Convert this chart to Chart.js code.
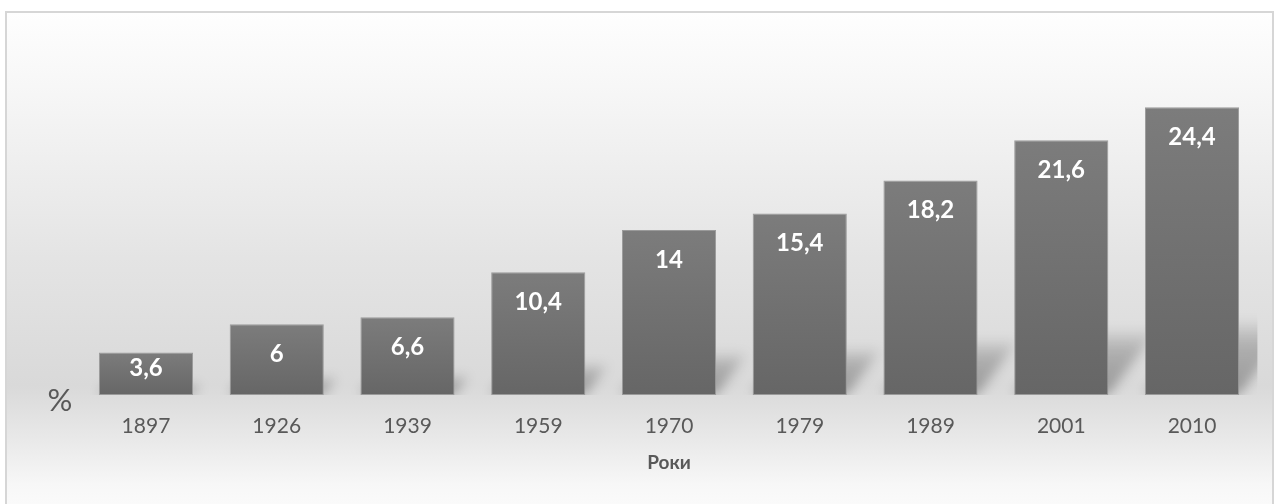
<!DOCTYPE html>
<html>
<head>
<meta charset="utf-8">
<script src="https://cdn.jsdelivr.net/npm/chart.js@4/dist/chart.umd.min.js"></script>
<style>
  html, body { margin: 0; padding: 0; background: #ffffff; }
  #wrap { position: relative; width: 1277px; height: 504px; }
  canvas { display: block; }
</style>
</head>
<body>
<div id="wrap"><canvas id="c" width="1277" height="504"></canvas></div>
<script>
// ---- data ----
const years = ['1897', '1926', '1939', '1959', '1970', '1979', '1989', '2001', '2010'];
const shares = [3.6, 6, 6.6, 10.4, 14, 15.4, 18.2, 21.6, 24.4];
const yUnit = '%';
const xTitle = 'Роки';

// ---- background frame with vertical gradient ----
const framePlugin = {
  id: 'frame',
  beforeDraw(chart) {
    const ctx = chart.ctx;
    const W = chart.width, H = chart.height;
    ctx.save();
    ctx.fillStyle = '#ffffff';
    ctx.fillRect(0, 0, W, H);
    const top = 12, left = 6, right = 1273;
    const g = ctx.createLinearGradient(0, top, 0, H);
    g.addColorStop(0.00, '#fefefe');
    g.addColorStop(0.15, '#f7f7f7');
    g.addColorStop(0.50, '#e4e4e4');
    g.addColorStop(0.76, '#d9d9d9');
    g.addColorStop(0.87, '#e9e9e9');
    g.addColorStop(0.96, '#f7f7f7');
    g.addColorStop(1.00, '#fafafa');
    ctx.fillStyle = g;
    ctx.fillRect(left, top, right - left, H - top + 2);
    ctx.strokeStyle = '#d6d6d6';
    ctx.lineWidth = 2;
    ctx.strokeRect(left, top, right - left, H - top + 4);
    ctx.restore();
  }
};

// ---- perspective shadows behind bars ----
const shadowPlugin = {
  id: 'barShadows',
  beforeDatasetsDraw(chart) {
    const ctx = chart.ctx;
    const area = chart.chartArea;
    const meta = chart.getDatasetMeta(0);
    ctx.save();
    ctx.beginPath();
    ctx.rect(area.left, area.top, area.right - area.left, area.bottom - area.top);
    ctx.clip();
    ctx.filter = 'blur(6px)';
    meta.data.forEach((bar) => {
      const p = bar.getProps(['x', 'y', 'base', 'width'], true);
      const xL = p.x - p.width / 2, xR = p.x + p.width / 2;
      const Hb = p.base - p.y;
      const h = Hb * 0.25;
      const dx = h * 0.75;
      const g = ctx.createLinearGradient(0, p.base, 0, p.base - h);
      g.addColorStop(0, 'rgba(0,0,0,0.30)');
      g.addColorStop(0.7, 'rgba(0,0,0,0.20)');
      g.addColorStop(1, 'rgba(0,0,0,0.05)');
      ctx.fillStyle = g;
      ctx.beginPath();
      ctx.moveTo(xL, p.base);
      ctx.lineTo(xR, p.base);
      ctx.lineTo(xR + dx, p.base - h);
      ctx.lineTo(xL + dx, p.base - h);
      ctx.closePath();
      ctx.fill();
    });
    ctx.restore();
  }
};

// ---- value labels inside bars + "%" unit ----
const labelPlugin = {
  id: 'valueLabels',
  afterDatasetsDraw(chart) {
    const ctx = chart.ctx;
    const meta = chart.getDatasetMeta(0);
    ctx.save();
    ctx.fillStyle = '#ffffff';
    ctx.font = 'bold 24px Lato, "Open Sans", sans-serif';
    ctx.textAlign = 'center';
    ctx.textBaseline = 'middle';
    meta.data.forEach((bar, i) => {
      const p = bar.getProps(['x', 'y', 'base'], true);
      const y = Math.min(p.y + 30, p.base - 27);
      ctx.fillText(String(shares[i]).replace('.', ','), p.x, y);
    });
    ctx.fillStyle = '#595959';
    ctx.font = '31px Lato, "Open Sans", sans-serif';
    ctx.fillText(yUnit, 60, 401);
    ctx.restore();
  }
};

const canvas = document.getElementById('c');
const chart = new Chart(canvas, {
  type: 'bar',
  data: {
    labels: years,
    datasets: [{
      data: shares,
      backgroundColor: (c) => {
        const a = c.chart.chartArea;
        const ys = c.chart.scales && c.chart.scales.y;
        if (!a || !ys || c.parsed == null) return '#707070';
        const ctx = c.chart.ctx;
        const top = ys.getPixelForValue(c.parsed.y);
        const g = ctx.createLinearGradient(0, top, 0, a.bottom);
        g.addColorStop(0, '#7c7c7c');
        g.addColorStop(1, '#666666');
        return g;
      },
      borderColor: '#9a9a9a',
      borderWidth: 1,
      borderSkipped: false,
      barPercentage: 0.72,
      categoryPercentage: 1
    }]
  },
  options: {
    responsive: false,
    animation: false,
    devicePixelRatio: 1,
    layout: { padding: { left: 80.6, right: 19.6, top: 0, bottom: 23 } },
    plugins: {
      legend: { display: false },
      tooltip: { enabled: false }
    },
    scales: {
      y: {
        display: false,
        min: 0,
        max: 33.5
      },
      x: {
        grid: { display: false, drawTicks: false },
        border: { display: false },
        ticks: {
          color: '#595959',
          padding: 19,
          font: { family: 'Lato, "Open Sans", sans-serif', size: 21, lineHeight: 1.2 }
        },
        title: {
          display: true,
          text: xTitle,
          color: '#595959',
          padding: { top: -7, bottom: 7 },
          font: { family: 'Lato, "Open Sans", sans-serif', size: 19, weight: 'bold', lineHeight: 1.2 }
        }
      }
    }
  },
  plugins: [framePlugin, shadowPlugin, labelPlugin]
});
</script>
</body>
</html>
